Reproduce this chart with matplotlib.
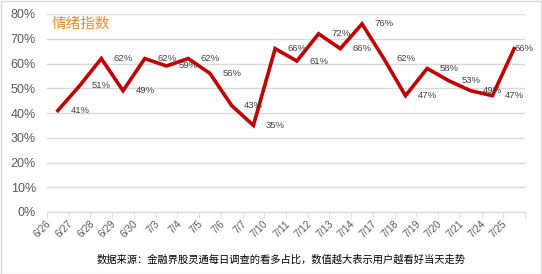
import matplotlib.pyplot as plt
import matplotlib.transforms as mtransforms
import numpy as np

plt.rcParams['font.family'] = ['Liberation Sans', 'Noto Sans CJK SC', 'DejaVu Sans']

# ========== 数据 ==========
dates = ['6/26', '6/27', '6/28', '6/29', '6/30', '7/3', '7/4', '7/5', '7/6', '7/7', '7/10',
         '7/11', '7/12', '7/13', '7/14', '7/17', '7/18', '7/19', '7/20', '7/21', '7/24', '7/25']
sentiment = [41, 51, 62, 49, 62, 59, 62, 56, 43, 35, 66,
             61, 72, 66, 76, 62, 47, 58, 53, 49, 47, 66]
y_ticks = [0, 10, 20, 30, 40, 50, 60, 70, 80]

title = '情绪指数'
note = '数据来源：金融界股灵通每日调查的看多占比，数值越大表示用户越看好当天走势'

fig = plt.figure(figsize=(5.42, 2.74), dpi=100)
ax = fig.add_axes([47 / 542, 1 - 212 / 274, 478 / 542, 198 / 274])

x = np.arange(len(dates))
ax.plot(x, sentiment, color='#C00000', lw=2.6, solid_joinstyle='miter', zorder=3)

# 数据标签：放在点的右侧同一高度
for i, v in enumerate(sentiment):
    if i == len(sentiment) - 1:
        ax.annotate(f'{v}%', (x[i], v), xytext=(0, 0), textcoords='offset pixels',
                    ha='left', va='center', fontsize=6.8, color='#404040')
    else:
        ax.annotate(f'{v}%', (x[i], v), xytext=(22, 0), textcoords='offset pixels',
                    ha='center', va='center', fontsize=6.8, color='#404040')

ax.set_xlim(-0.5, len(dates) - 0.5)
ax.set_ylim(0, 80)
ax.set_yticks(y_ticks)
ax.set_yticklabels([f'{t}%' for t in y_ticks], fontsize=9, color='#595959')
ax.yaxis.grid(True, color='#D9D9D9', lw=1)
ax.set_axisbelow(True)
ax.tick_params(axis='y', length=0, pad=8)

ax.set_xticks(x)
ax.set_xticklabels(dates, rotation=45, ha='right', rotation_mode='anchor',
                   fontsize=7.2, color='#595959')
ax.tick_params(axis='x', which='major', length=0, pad=5)
ax.set_xticks(np.arange(-0.5, len(dates)), minor=True)
ax.tick_params(axis='x', which='minor', length=4, color='#D9D9D9')
shift = mtransforms.ScaledTranslation(-12 / 100, 0, fig.dpi_scale_trans)
for lbl in ax.get_xticklabels():
    lbl.set_transform(lbl.get_transform() + shift)

for s in ['top', 'right', 'left']:
    ax.spines[s].set_visible(False)
ax.spines['bottom'].set_color('#D9D9D9')

ax.text(0.01, 0.95, title, transform=ax.transAxes, fontsize=10.5,
        color='#F08A2A', ha='left', va='center', family=['Noto Sans CJK SC', 'DejaVu Sans'])

fig.text(281 / 542, 1 - 260 / 274, note, fontsize=7.4, color='black',
         ha='center', va='center', family=['Noto Sans CJK SC', 'DejaVu Sans'])

# 外框
fig.patches.append(plt.Rectangle((0.5 / 542, 0.5 / 274), 1 - 1.5 / 542, 1 - 1.5 / 274,
                                 transform=fig.transFigure, fill=False,
                                 edgecolor='#D9D9D9', lw=1))

fig.savefig('out.png', dpi=100)
